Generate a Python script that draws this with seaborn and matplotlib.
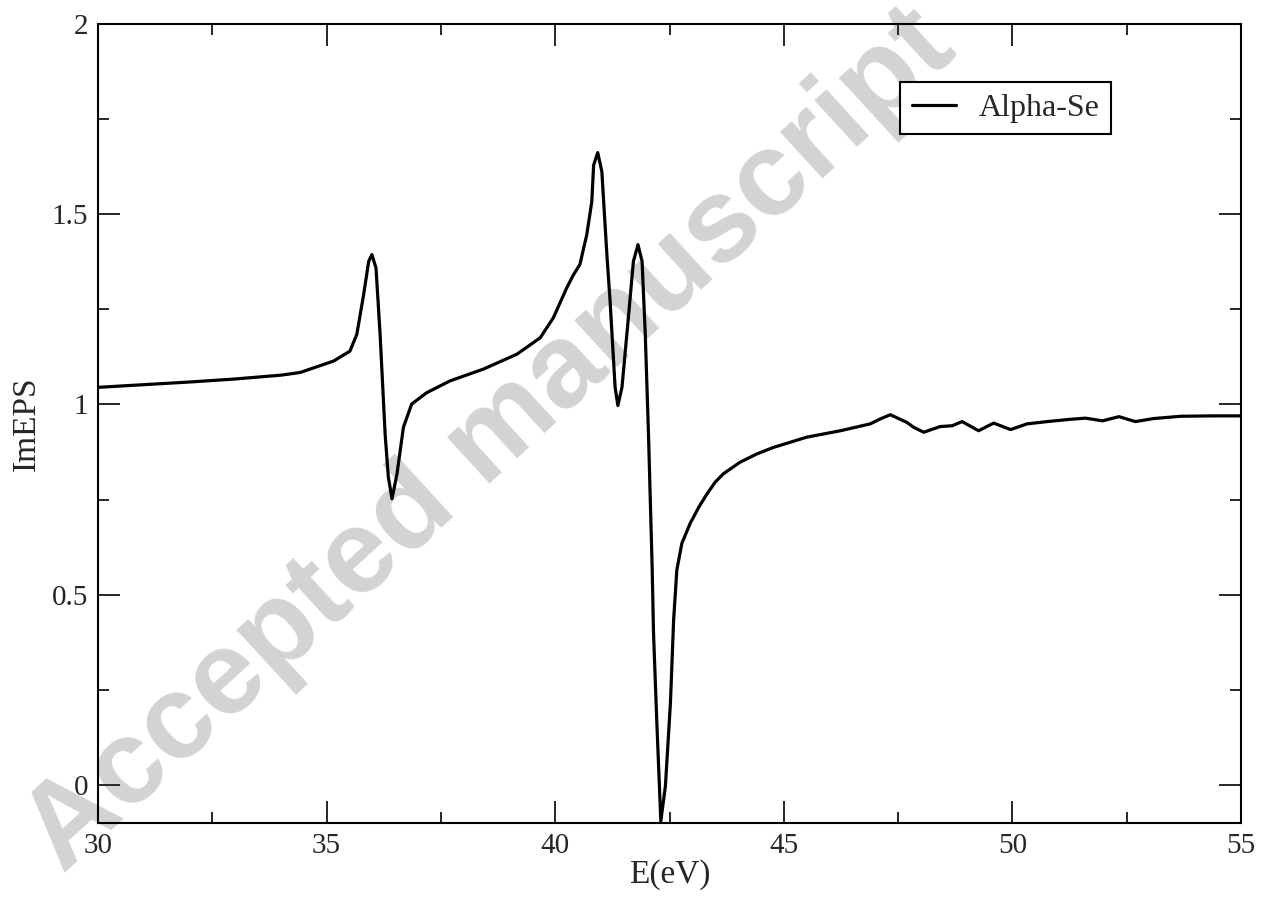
import numpy as np
import pandas as pd
import matplotlib
matplotlib.use("Agg")
import matplotlib.pyplot as plt
from matplotlib.ticker import AutoMinorLocator, FormatStrFormatter
import seaborn as sns

# values
energy = [30.0, 31.0, 32.0, 33.0, 34.0, 34.42, 35.15, 35.51, 35.66, 35.81, 35.92, 35.99,
          36.08, 36.17, 36.28, 36.35, 36.43, 36.54, 36.68, 36.86, 37.19, 37.70, 38.43,
          39.16, 39.67, 39.96, 40.25, 40.40, 40.54, 40.69, 40.80, 40.84, 40.93, 41.02,
          41.13, 41.20, 41.31, 41.37, 41.46, 41.60, 41.71, 41.81, 41.90, 41.97, 42.04,
          42.12, 42.15, 42.22, 42.31, 42.41, 42.52, 42.59, 42.66, 42.77, 42.95, 43.14,
          43.32, 43.50, 43.68, 44.04, 44.41, 44.77, 45.50, 46.24, 46.89, 47.11, 47.33,
          47.69, 47.84, 48.06, 48.42, 48.68, 48.90, 49.26, 49.59, 49.96, 50.32, 50.76,
          51.27, 51.60, 51.97, 52.33, 52.69, 53.09, 53.68, 54.41, 55.0]
im_eps = [1.045, 1.052, 1.059, 1.067, 1.077, 1.084, 1.114, 1.14, 1.184, 1.289, 1.376, 1.394,
          1.359, 1.184, 0.922, 0.809, 0.752, 0.818, 0.94, 1.001, 1.031, 1.062, 1.093,
          1.132, 1.175, 1.228, 1.306, 1.341, 1.368, 1.446, 1.533, 1.629, 1.662, 1.612,
          1.394, 1.272, 1.045, 0.997, 1.045, 1.228, 1.376, 1.42, 1.376, 1.184, 0.922,
          0.573, 0.40, 0.172, -0.095, -0.003, 0.216, 0.434, 0.565, 0.635, 0.687, 0.730,
          0.765, 0.796, 0.818, 0.848, 0.870, 0.887, 0.914, 0.931, 0.949, 0.962, 0.973,
          0.953, 0.94, 0.927, 0.942, 0.944, 0.955, 0.931, 0.951, 0.934, 0.949, 0.955,
          0.961, 0.964, 0.957, 0.968, 0.955, 0.963, 0.969, 0.970, 0.970]
series_name = "Alpha-Se"

df = pd.DataFrame({"E": energy, "ImEPS": im_eps, "sample": series_name})

sns.set_style("ticks")
plt.rcParams.update({
    "font.family": ["Liberation Serif", "DejaVu Serif"],
    "font.size": 21,
    "axes.linewidth": 1.5,
})

fig = plt.figure(figsize=(12.63, 9.02), dpi=100)
ax = fig.add_axes([0.0776, 0.0876, 0.905, 0.8858])
ax.patch.set_alpha(0)

# watermark sits behind the curve
ax.text(0.388, 0.511, "Accepted manuscript", transform=fig.transFigure,
        fontsize=86, fontweight="bold", family=["Liberation Sans", "DejaVu Sans"],
        color="#d3d3d3", rotation=42.5, ha="center", va="center",
        zorder=0, clip_on=False)

sns.lineplot(data=df, x="E", y="ImEPS", hue="sample", palette=["black"],
             linewidth=2.3, sort=False, ax=ax, zorder=3)

ax.set_xlim(30, 55)
ax.set_ylim(-0.1, 2)
ax.set_xticks([30, 35, 40, 45, 50, 55])
ax.set_yticks([0, 0.5, 1, 1.5, 2])
ax.yaxis.set_major_formatter(FormatStrFormatter("%g"))
ax.xaxis.set_minor_locator(AutoMinorLocator(2))
ax.yaxis.set_minor_locator(AutoMinorLocator(2))
ax.tick_params(which="both", direction="in", top=True, right=True, width=1.4, labelsize=21)
ax.tick_params(which="major", length=16, pad=7)
ax.tick_params(which="minor", length=8)
for s in ax.spines.values():
    s.set_color("black")
    s.set_zorder(4)

ax.set_xlabel("E(eV)", fontsize=24, labelpad=0)
ax.set_ylabel("ImEPS", fontsize=24, labelpad=7)

leg = ax.legend(loc="upper right", bbox_to_anchor=(0.886, 0.927), borderaxespad=0,
                fontsize=23, frameon=True, fancybox=False, edgecolor="black",
                framealpha=1, handlelength=1.4, handletextpad=0.7, borderpad=0.35)
leg.get_frame().set_linewidth(1.5)
leg.set_zorder(5)

fig.savefig("out.png", dpi=100)
